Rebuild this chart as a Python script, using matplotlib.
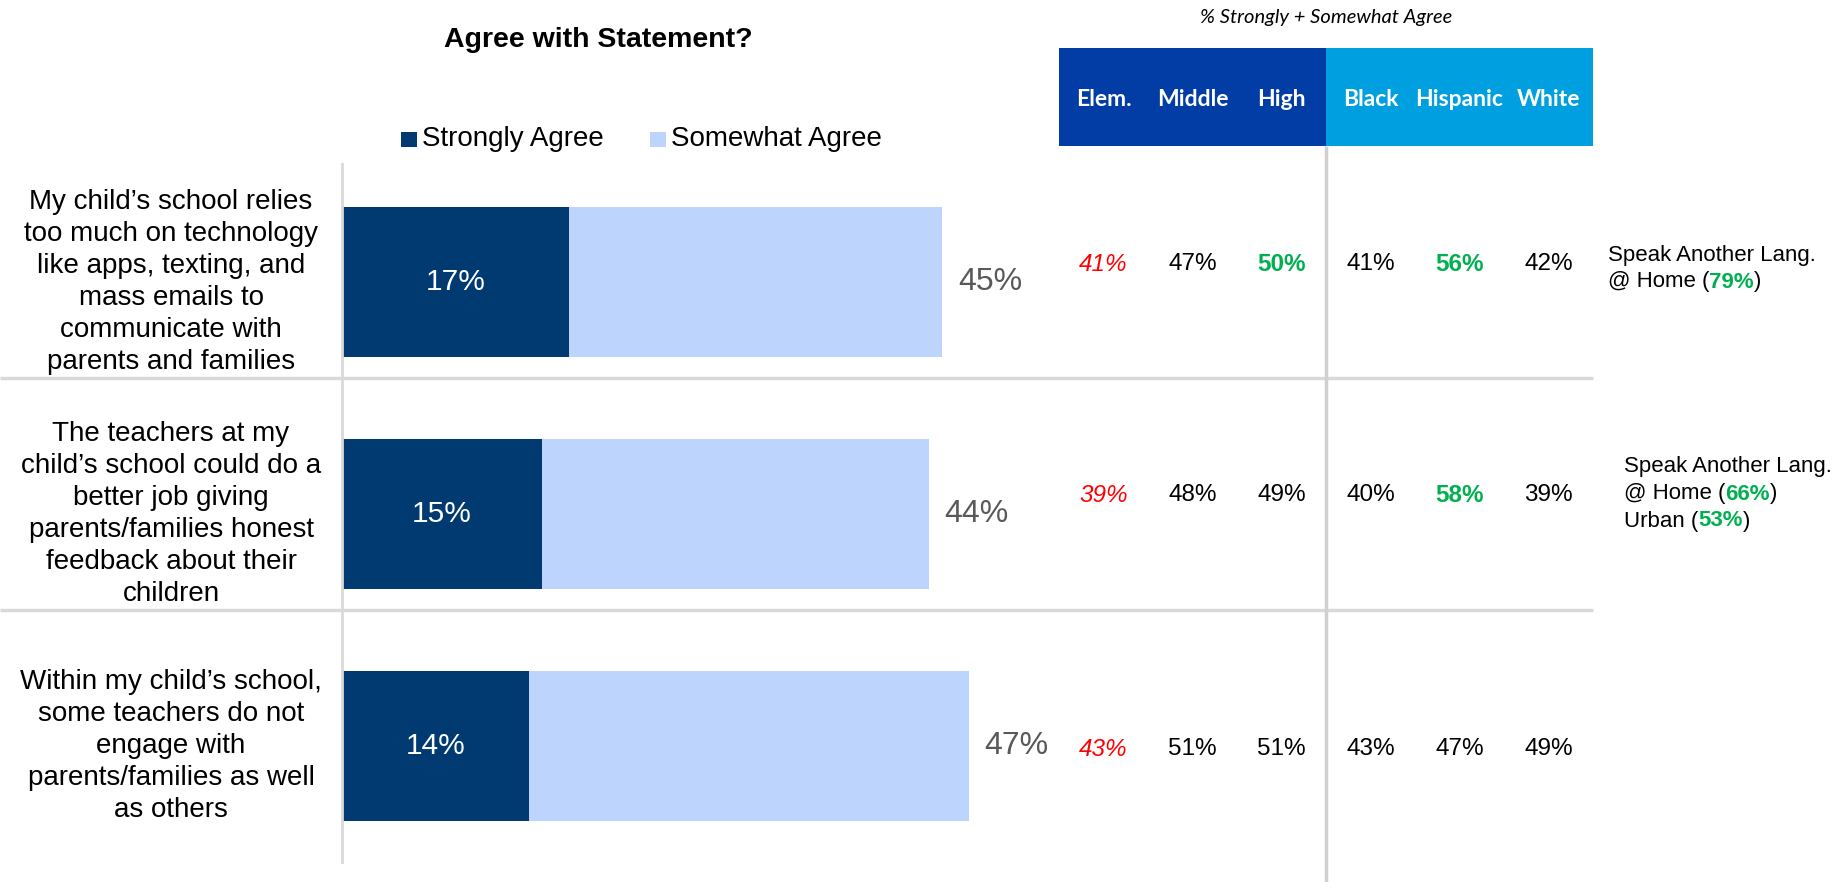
import matplotlib
matplotlib.use("Agg")
import matplotlib.pyplot as plt
import matplotlib.transforms as mtransforms
from matplotlib.patches import Rectangle

# ---- data ----
statements = [
    "My child\u2019s school relies\ntoo much on technology\nlike apps, texting, and\nmass emails to\ncommunicate with\nparents and families",
    "The teachers at my\nchild\u2019s school could do a\nbetter job giving\nparents/families honest\nfeedback about their\nchildren",
    "Within my child\u2019s school,\nsome teachers do not\nengage with\nparents/families as well\nas others",
]
strongly = [17, 15, 14]
somewhat = [28, 29, 33]
series_names = ["Strongly Agree", "Somewhat Agree"]

school_cols = ["Elem.", "Middle", "High"]
race_cols = ["Black", "Hispanic", "White"]
sub_values = [
    [41, 47, 50, 41, 56, 42],
    [39, 48, 49, 40, 58, 39],
    [43, 51, 51, 43, 47, 49],
]
# "low" = red italic, "high" = green bold
sub_flags = [
    ["low", "", "high", "", "high", ""],
    ["low", "", "", "", "high", ""],
    ["low", "", "", "", "", ""],
]
notes = [
    [[("Speak Another Lang.", False)], [("@ Home (", False), ("79%", True), (")", False)]],
    [[("Speak Another Lang.", False)], [("@ Home (", False), ("66%", True), (")", False)],
     [("Urban (", False), ("53%", True), (")", False)]],
]

# ---- style ----
DARK = "#003A70"
LIGHT = "#BDD4FD"
HEAD1 = "#023DA5"
HEAD2 = "#009FDF"
GREEN = "#00B050"
RED = "#FF0000"
GRID = "#D9D9D9"
ARIAL = "Liberation Sans"
CALIBRI = "Lato"

W, H = 1835, 882
fig = plt.figure(figsize=(W / 100, H / 100), dpi=100)


def fx(x):
    return x / W


def fy(y):
    return 1 - y / H


# bands of 232px starting at y=146; axes span y 48..862
band0, band = 146, 232
ylo, yhi = (48 - band0) / band, (862 - band0) / band

ax = fig.add_axes([fx(342), fy(862), (1042 - 342) / W, (862 - 48) / H])
ax.set_xlim(0, 700 / 13.33)
ax.set_ylim(yhi, ylo)
ax.axis("off")

ypos = [i + 0.585 for i in range(len(statements))]
totals = [a + b for a, b in zip(strongly, somewhat)]
ax.barh(ypos, strongly, height=0.647, color=DARK, label=series_names[0])
ax.barh(ypos, somewhat, left=strongly, height=0.647, color=LIGHT, label=series_names[1])

for y, s, t in zip(ypos, strongly, totals):
    ax.text(s / 2, y, f"{s}%", color="white", ha="center", va="center",
            fontsize=21.5, family=ARIAL)
    ax.text(t + 1.2, y, f"{t}%", color="#595959", ha="left", va="center",
            fontsize=23, family=ARIAL)

blend = mtransforms.blended_transform_factory(fig.transFigure, ax.transData)
for y, lab in zip(ypos, statements):
    ax.text(fx(171), y, lab, transform=blend, ha="center", va="center",
            fontsize=20, family=ARIAL, linespacing=1.3, color="black")

# row separators and axis line
for i in range(1, len(statements)):
    ax.plot([0, fx(1593)], [i, i], transform=blend, color=GRID, lw=2.5,
            clip_on=False, solid_capstyle="butt")
ax.plot([0, 0], [(164 - band0) / band, yhi], color=GRID, lw=2, clip_on=False)

# ---- subgroup table ----
tx = fig.add_axes([fx(1059), fy(862), (1593 - 1059) / W, (862 - 48) / H])
tx.set_xlim(0, 6)
tx.set_ylim(yhi, ylo)
tx.axis("off")
tx.add_patch(Rectangle((0, ylo), 3, -ylo, color=HEAD1, lw=0))
tx.add_patch(Rectangle((3, ylo), 3, -ylo, color=HEAD2, lw=0))
for j, name in enumerate(school_cols + race_cols):
    tx.text(j + 0.5, (99 - band0) / band, name, color="white", ha="center",
            va="center", fontsize=16.5, family=CALIBRI, weight="bold")
tx.plot([3, 3], [0, (882 - band0) / band], color="#D0D0D0", lw=2.5,
        clip_on=False, solid_capstyle="butt")

value_y = [0.51, 0.505, 0.60]
for i, row in enumerate(sub_values):
    for j, v in enumerate(row):
        flag = sub_flags[i][j]
        kw = dict(color="black", style="normal", weight="normal")
        if flag == "low":
            kw = dict(color=RED, style="italic", weight="normal")
        elif flag == "high":
            kw = dict(color=GREEN, style="normal", weight="bold")
        tx.text(j + 0.5, i + value_y[i], f"{v}%", ha="center", va="center",
                fontsize=17.5, family=ARIAL, **kw)

fig.text(fx(1326), fy(17), "% Strongly + Somewhat Agree", ha="center", va="center",
         fontsize=14.5, family=CALIBRI, style="italic", color="black")

# ---- title and legend ----
fig.text(fx(598), fy(40), "Agree with Statement?", ha="center", va="center",
         fontsize=20.5, family=ARIAL, weight="bold")
for (x0, tx0), col, name in zip([(401, 422), (650, 671)], [DARK, LIGHT], series_names):
    fig.add_artist(Rectangle((fx(x0), fy(147)), 16 / W, 15 / H,
                             transform=fig.transFigure, color=col, lw=0))
    fig.text(fx(tx0), fy(139), name, ha="left", va="center", fontsize=20,
             family=ARIAL)

# ---- side notes ----
note_pos = [(1608, 255), (1624, 467)]
for (x0, y0), lines in zip(note_pos, notes):
    for k, pieces in enumerate(lines):
        prev = None
        for text, hi in pieces:
            kw = dict(fontsize=16, family=ARIAL,
                      color=GREEN if hi else "black",
                      weight="bold" if hi else "normal")
            if prev is None:
                prev = fig.text(fx(x0), fy(y0 + 27 * k), text, ha="left",
                                va="center", **kw)
            else:
                prev = ax.annotate(text, xy=(1, 0), xycoords=prev, ha="left",
                                   va="bottom", annotation_clip=False, **kw)

fig.savefig("out.png", dpi=100)
